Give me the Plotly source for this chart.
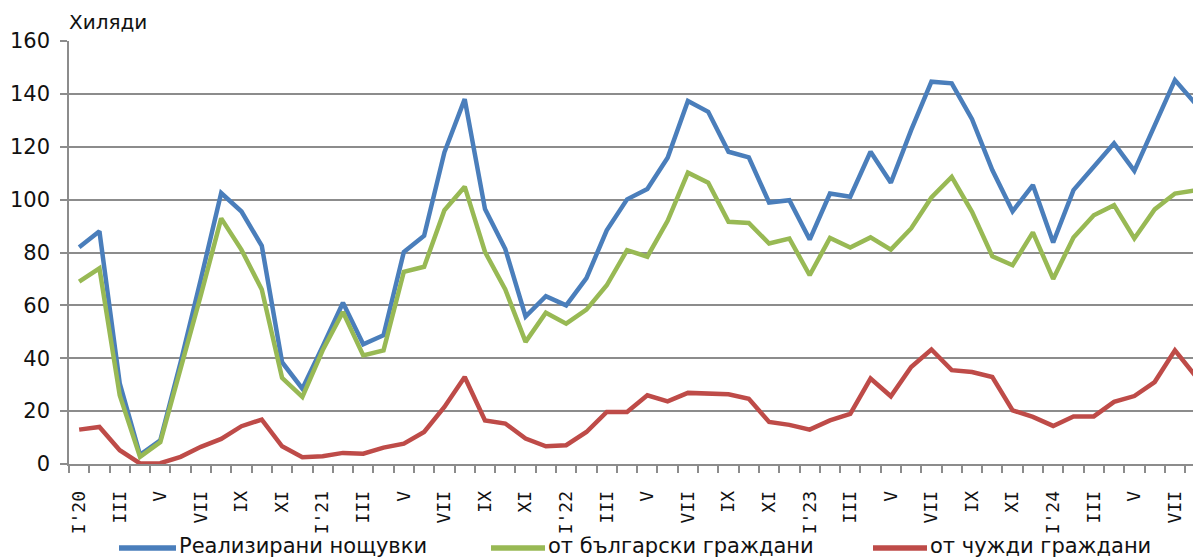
import plotly.graph_objects as go

# Monthly data, Jan 2020 .. Aug 2024 (thousands)
month_labels = ["I'20", "II", "III", "IV", "V", "VI", "VII", "VIII", "IX", "X", "XI", "XII",
                "I'21", "II", "III", "IV", "V", "VI", "VII", "VIII", "IX", "X", "XI", "XII",
                "I'22", "II", "III", "IV", "V", "VI", "VII", "VIII", "IX", "X", "XI", "XII",
                "I'23", "II", "III", "IV", "V", "VI", "VII", "VIII", "IX", "X", "XI", "XII",
                "I'24", "II", "III", "IV", "V", "VI", "VII", "VIII"]

total_nights = [82, 88, 30.5, 3.5, 9, 38.5, 70, 102.5, 95.5, 82.5, 38.5, 28.5,
                44.5, 61, 45.3, 48.7, 80.2, 86.3, 117.9, 138, 96.4, 81.3, 55.8, 63.5,
                60, 70.3, 88.4, 100.1, 104, 115.8, 137.3, 133.2, 118.1, 116, 98.9, 99.8,
                84.9, 102.3, 101.1, 118.1, 106.4, 126.3, 144.6, 144, 130.4, 111.2, 95.6, 105.5,
                83.8, 103.6, 112.4, 121.3, 110.9, 128.2, 145.2, 136.4]

bulgarian = [69, 74, 26, 2.7, 8.3, 35.5, 64, 92.9, 81, 66, 32.6, 25.4,
             43, 57.5, 41.1, 43, 72.7, 74.6, 96, 104.9, 80.2, 66, 46.2, 57.2,
             53.1, 58.4, 67.6, 80.9, 78.4, 92, 110.2, 106.4, 91.6, 91.2, 83.4, 85.3,
             71.4, 85.5, 81.9, 85.7, 81.1, 89.1, 100.8, 108.6, 95.4, 78.6, 75.2, 87.6,
             70, 85.7, 94.1, 97.9, 85.3, 96.3, 102.3, 103.5]

foreign = [13, 14, 5.2, 0.2, 0.3, 2.7, 6.5, 9.5, 14.3, 16.8, 6.7, 2.6,
           2.9, 4.2, 3.9, 6.2, 7.7, 12.1, 21.6, 32.9, 16.5, 15.3, 9.6, 6.7,
           7.1, 12.1, 19.7, 19.7, 26, 23.7, 26.9, 26.6, 26.4, 24.7, 15.9, 14.8,
           13, 16.5, 19, 32.3, 25.6, 36.7, 43.3, 35.5, 34.8, 32.9, 20.3, 17.8,
           14.4, 18, 18, 23.5, 25.7, 31, 43, 33.4]

series_names = ["Реализирани нощувки", "от български граждани", "от чужди граждани"]
series_colors = ["#4A7EBB", "#98B954", "#BE4B48"]

x = list(range(len(month_labels)))
tick_idx = [i for i in x if i % 2 == 0 and i <= 54]
tick_txt = [month_labels[i] for i in tick_idx]

grid = "#8C8C8C"
txt_col = "#111111"

W, H = 1193, 558
ML, MR, MT, MB = 69, 0, 41, 94
PW, PH = W - ML - MR, H - MT - MB


def px_to_paper_x(px):
    return (px - ML) / PW


def px_to_paper_y(py):
    return (H - MB - py) / PH


fig = go.Figure()
for name, vals, col in zip(series_names, [total_nights, bulgarian, foreign], series_colors):
    fig.add_trace(go.Scatter(x=x, y=vals, name=name, mode="lines",
                             line=dict(color=col, width=4.5), showlegend=False))

# Legend drawn as line samples + text (long Excel-style line keys)
legend_line_px = [(119, 176), (491, 545), (873, 927)]
legend_line_y = 548
legend_text_y = 546
shapes = []
annotations = [dict(text="Хиляди", xref="paper", yref="paper", x=0, y=1,
                    xanchor="left", yanchor="middle", yshift=19, xshift=-2,
                    showarrow=False, font=dict(family="DejaVu Sans", size=20, color=txt_col))]
for (x0, x1), name, col in zip(legend_line_px, series_names, series_colors):
    shapes.append(dict(type="line", xref="paper", yref="paper",
                       x0=px_to_paper_x(x0), x1=px_to_paper_x(x1),
                       y0=px_to_paper_y(legend_line_y), y1=px_to_paper_y(legend_line_y),
                       line=dict(color=col, width=5.5)))
    annotations.append(dict(text=name, xref="paper", yref="paper",
                            x=px_to_paper_x(x1 + 1), y=px_to_paper_y(legend_text_y),
                            xanchor="left", yanchor="middle", showarrow=False,
                            font=dict(family="DejaVu Sans", size=21, color=txt_col)))

fig.update_layout(
    width=W, height=H,
    margin=dict(l=ML, r=MR, t=MT, b=MB),
    paper_bgcolor="white", plot_bgcolor="white",
    font=dict(family="DejaVu Sans", size=20, color=txt_col),
    showlegend=False,
    shapes=shapes,
    annotations=annotations,
)

fig.update_yaxes(range=[0, 160], dtick=20, showgrid=True, gridcolor=grid, gridwidth=1.5,
                 showline=True, linecolor=grid, linewidth=1.5, zeroline=False,
                 ticks="outside", ticklen=7, tickcolor=grid, tickwidth=1.5,
                 ticklabelstandoff=6, automargin=False,
                 tickfont=dict(family="DejaVu Sans", size=21, color=txt_col))

fig.update_xaxes(range=[-0.5, 54.89], tickmode="array", tickvals=tick_idx, ticktext=tick_txt,
                 tickangle=-90, showgrid=False, zeroline=False, automargin=False,
                 showline=True, linecolor=grid, linewidth=1.5, ticks="",
                 ticklabelstandoff=18,
                 tickfont=dict(family="DejaVu Sans Mono", size=18, color=txt_col),
                 minor=dict(tickmode="linear", tick0=-0.5, dtick=1, ticks="outside",
                            ticklen=7, tickcolor=grid, tickwidth=1.5, showgrid=False))

fig.write_html("out.html",
               config={"displayModeBar": False},
               post_script="document.body.style.margin='0';"
                           "document.body.style.overflow='hidden';")
